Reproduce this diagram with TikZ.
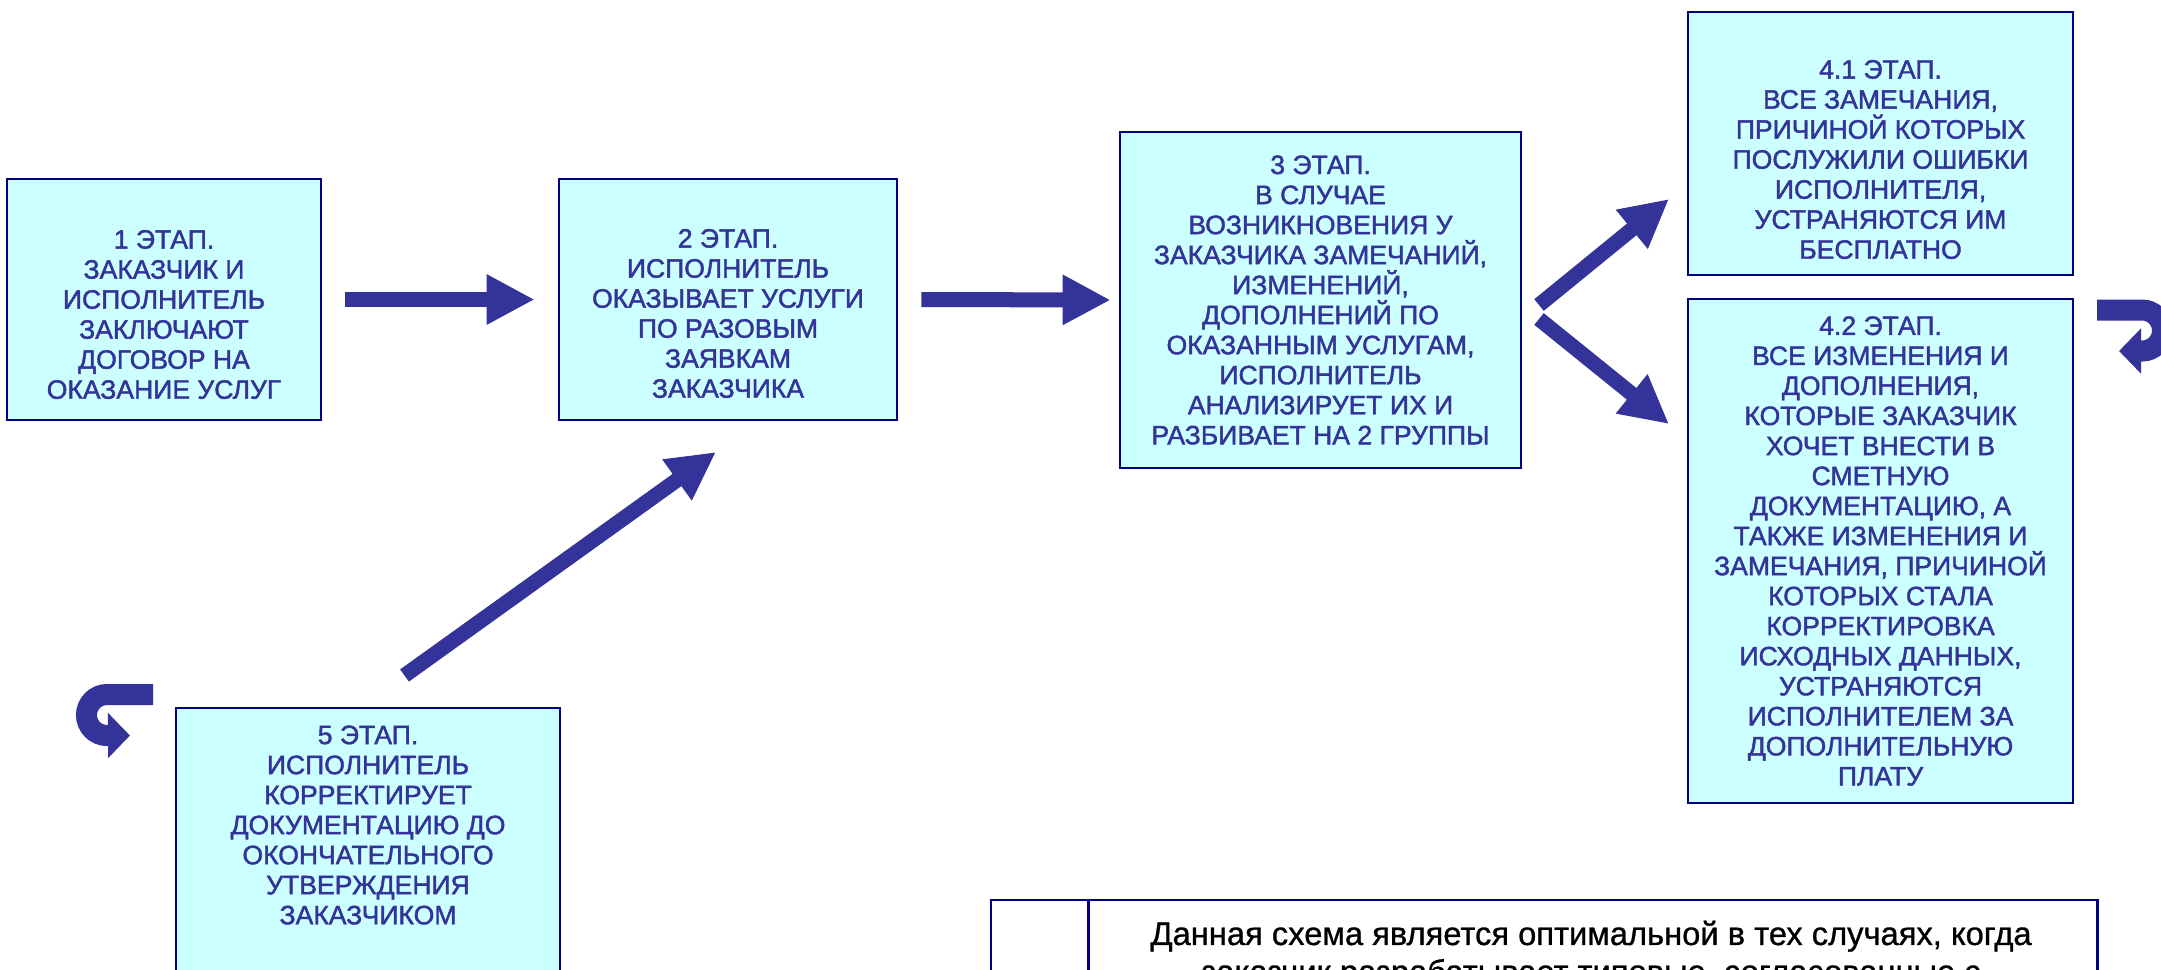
\documentclass[tikz,border=0pt]{standalone}
\usepackage{fontspec}
\setmainfont{Liberation Sans}
\newfontfamily\stagefont[FakeBold=1.6]{Liberation Sans}
\newfontfamily\notefont[FakeBold=0.8]{Liberation Sans}
\usetikzlibrary{arrows.meta,calc}
\definecolor{tx}{RGB}{51,51,153}
\definecolor{cyanfill}{RGB}{204,255,255}
\definecolor{navyline}{RGB}{0,0,128}
\tikzset{
  stagebox/.style={draw=navyline, line width=0.025cm, fill=cyanfill, inner sep=0pt},
  stagetext/.style={text=tx, align=center, inner sep=0pt, font=\stagefont\fontsize{7.55pt}{8.54pt}\selectfont},
  notebox/.style={draw=navyline, line width=0.025cm, fill=white, inner sep=0pt},
  notetext/.style={text=black, align=center, inner sep=0pt, font=\notefont\fontsize{9.3pt}{10.8pt}\selectfont},
  blockarrow/.style={draw=tx, line width=0.15cm, line cap=butt, -{Triangle[length=0.48cm,width=0.47cm]}},
  curlarrow/.style={draw=tx, line width=0.21cm, line cap=butt, -{Triangle[length=0.22cm,width=0.44cm]}}
}
\begin{document}
\begin{tikzpicture}[x=0.01cm, y=-0.01cm]
\useasboundingbox (0,0) rectangle (2161,969);
\clip (0,0) rectangle (2161,969);
\fill[white] (0,0) rectangle (2161,969);

% boxes
\node[stagebox, minimum width=3.14cm, minimum height=2.41cm] (b1) at (164,299.5) {};
\node[stagebox, minimum width=3.38cm, minimum height=2.41cm] (b2) at (728,299.5) {};
\node[stagebox, minimum width=4.01cm, minimum height=3.36cm] (b3) at (1320.5,300) {};
\node[stagebox, minimum width=3.85cm, minimum height=2.63cm] (b41) at (1880.5,143.5) {};
\node[stagebox, minimum width=3.85cm, minimum height=5.04cm] (b42) at (1880.5,551) {};
\node[stagebox, minimum width=3.84cm, minimum height=4.00cm] (b5) at (368,908) {};
\node[notebox, minimum width=0.98cm, minimum height=1.50cm] (nl) at (1040,975) {};
\node[notebox, minimum width=10.08cm, minimum height=1.50cm] (nr) at (1593,975) {};

% texts
\node[stagetext] (t1) at ($(b1.center)+(0,15)$) {1 ЭТАП.\\ЗАКАЗЧИК И\\ИСПОЛНИТЕЛЬ\\ЗАКЛЮЧАЮТ\\ДОГОВОР НА\\ОКАЗАНИЕ УСЛУГ};
\node[stagetext] (t2) at ($(b2.center)+(0,14)$) {2 ЭТАП.\\ИСПОЛНИТЕЛЬ\\ОКАЗЫВАЕТ УСЛУГИ\\ПО РАЗОВЫМ\\ЗАЯВКАМ\\ЗАКАЗЧИКА};
\node[stagetext] (t3) at (b3.center) {3 ЭТАП.\\В СЛУЧАЕ\\ВОЗНИКНОВЕНИЯ У\\ЗАКАЗЧИКА ЗАМЕЧАНИЙ,\\ИЗМЕНЕНИЙ,\\ДОПОЛНЕНИЙ ПО\\ОКАЗАННЫМ УСЛУГАМ,\\ИСПОЛНИТЕЛЬ\\АНАЛИЗИРУЕТ ИХ И\\РАЗБИВАЕТ НА 2 ГРУППЫ};
\node[stagetext] (t41) at ($(b41.center)+(0,16)$) {4.1 ЭТАП.\\ВСЕ ЗАМЕЧАНИЯ,\\ПРИЧИНОЙ КОТОРЫХ\\ПОСЛУЖИЛИ ОШИБКИ\\ИСПОЛНИТЕЛЯ,\\УСТРАНЯЮТСЯ ИМ\\БЕСПЛАТНО};
\node[stagetext] (t42) at (b42.center) {4.2 ЭТАП.\\ВСЕ ИЗМЕНЕНИЯ И\\ДОПОЛНЕНИЯ,\\КОТОРЫЕ ЗАКАЗЧИК\\ХОЧЕТ ВНЕСТИ В\\СМЕТНУЮ\\ДОКУМЕНТАЦИЮ, А\\ТАКЖЕ ИЗМЕНЕНИЯ И\\ЗАМЕЧАНИЯ, ПРИЧИНОЙ\\КОТОРЫХ СТАЛА\\КОРРЕКТИРОВКА\\ИСХОДНЫХ ДАННЫХ,\\УСТРАНЯЮТСЯ\\ИСПОЛНИТЕЛЕМ ЗА\\ДОПОЛНИТЕЛЬНУЮ\\ПЛАТУ};
\node[stagetext] (t5) at (368,825) {5 ЭТАП.\\ИСПОЛНИТЕЛЬ\\КОРРЕКТИРУЕТ\\ДОКУМЕНТАЦИЮ ДО\\ОКОНЧАТЕЛЬНОГО\\УТВЕРЖДЕНИЯ\\ЗАКАЗЧИКОМ};
\node[notetext, anchor=north] (tn) at (1591,920) {Данная схема является оптимальной в тех случаях, когда\\заказчик разрабатывает типовые, согласованные с};

% straight arrows
\draw[blockarrow] ($(b1.east)+(23,0)$) -- ($(b2.west)+(-23,0)$);
\draw[blockarrow] ($(b2.east)+(23,0)$) -- ($(b3.west)+(-8,0)$);

% diagonal arrows
\coordinate (d1s) at (1539,305);
\coordinate (d1e) at (1669,199);
\coordinate (d2s) at (1539,319);
\coordinate (d2e) at (1669,424);
\coordinate (d5s) at (404.5,675.5);
\coordinate (d5e) at (716,452);
\draw[blockarrow] (d1s) -- (d1e);
\draw[blockarrow] (d2s) -- (d2e);
\draw[blockarrow] (d5s) -- (d5e);

% curl arrows
\coordinate (cl) at (153,694.5);
\coordinate (cr) at (2097,310);
\draw[curlarrow] (cl) -- (107,694.5) arc[start angle=90, end angle=270, radius=0.205cm] -- (130,735.5);
\draw[curlarrow] (cr) -- (2142,310) arc[start angle=90, end angle=-90, radius=0.205cm] -- (2119,351);
\end{tikzpicture}
\end{document}
